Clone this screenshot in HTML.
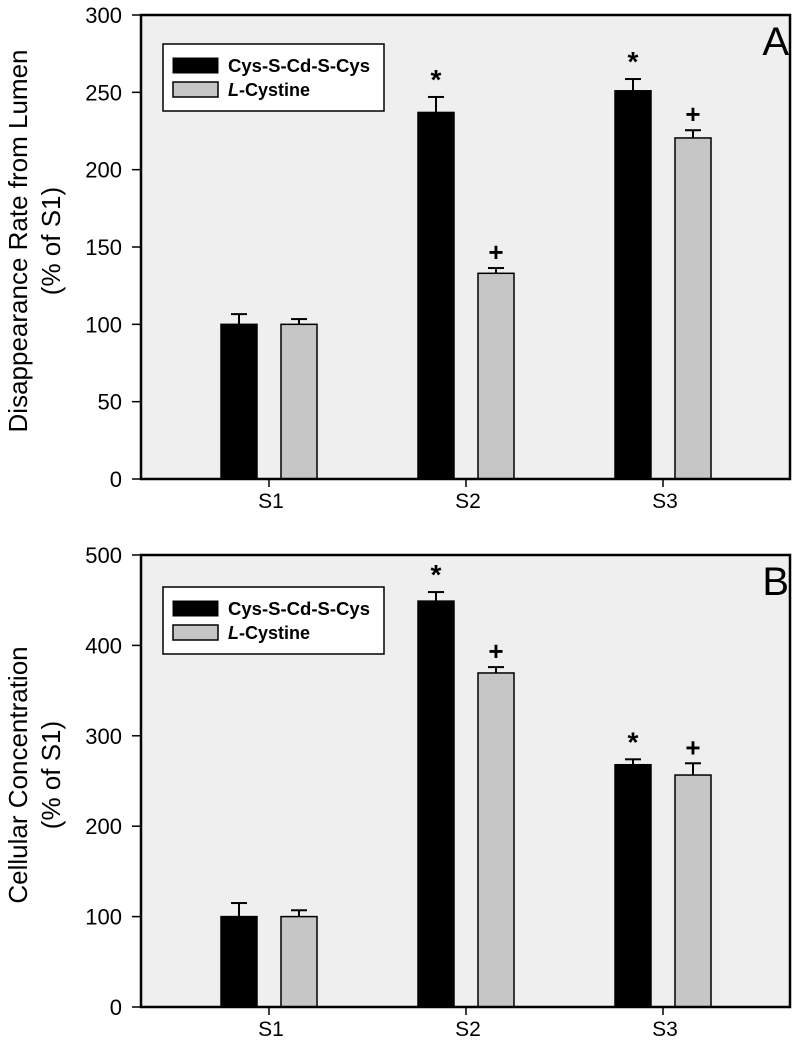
<!DOCTYPE html>
<html><head><meta charset="utf-8"><style>
html,body{margin:0;padding:0;background:#fff;}
svg{display:block;font-family:"Liberation Sans",Arial,sans-serif;}
</style></head><body>
<svg id="chart" width="800" height="1044" viewBox="0 0 800 1044" xmlns="http://www.w3.org/2000/svg"></svg>
<script>
const categories = ["S1", "S2", "S3"];
const seriesNames = ["Cys-S-Cd-S-Cys", "L-Cystine"];
const aCys = [100, 237, 251];
const aCysErr = [6.6, 10, 7.6];
const aLcy = [100, 133, 220.5];
const aLcyErr = [3.4, 3.4, 5];
const aMarksCys = ["", "*", "*"];
const aMarksLcy = ["", "+", "+"];
const aTicks = [0, 50, 100, 150, 200, 250, 300];
const bCys = [100, 449, 268];
const bCysErr = [15, 10, 6];
const bLcy = [100, 369.5, 256.6];
const bLcyErr = [7, 6.5, 13];
const bMarksCys = ["", "*", "*"];
const bMarksLcy = ["", "+", "+"];
const bTicks = [0, 100, 200, 300, 400, 500];

const NS = "http://www.w3.org/2000/svg";
const svg = document.getElementById("chart");
function mk(tag, attrs, parent, text) {
  const e = document.createElementNS(NS, tag);
  for (const k in attrs) e.setAttribute(k, attrs[k]);
  if (text !== undefined) e.textContent = text;
  (parent || svg).appendChild(e);
  return e;
}

function panel(opt) {
  const g = mk("g", {});
  
  
  const L = 141, R = 790, T = opt.top, B = opt.bottom;
  const ymax = opt.ticks[opt.ticks.length - 1];
  const y = v => B - (v / ymax) * (B - T);
  const xc = i => L + 128 + i * 197;
  const bg = mk("rect", {x: L, y: T, width: R - L, height: B - T, fill: "#efefef"}, g);
  
  
  opt.ticks.forEach(t => {
    const ln = mk("line", {x1: L - 9, x2: L, y1: y(t), y2: y(t), stroke: "#000", "stroke-width": 1.5}, g);
    
    
    const tx = mk("text", {x: L - 19, y: y(t) + 8, "text-anchor": "end", "font-size": 22}, g, String(t));
    
    
  });
  categories.forEach((c, i) => {
    const ln = mk("line", {x1: xc(i), x2: xc(i), y1: B, y2: B + 8, stroke: "#000", "stroke-width": 1.5}, g);
    
    
    const tx = mk("text", {x: xc(i) + 2, y: B + 29, "text-anchor": "middle", "font-size": 21}, g, c);
    
    
  });
  const drawSeries = (vals, errs, marks, x0, fill, sname, markDy) => {
    vals.forEach((v, i) => {
      const bx = xc(i) + x0, w = 36;
      const r = mk("rect", {x: bx, y: y(v), width: w, height: B - y(v), fill: fill, stroke: "#000", "stroke-width": 1.5}, g);
      
      
      const cx = bx + w / 2, et = y(v + errs[i]);
      const e1 = mk("line", {x1: cx, x2: cx, y1: y(v), y2: et, stroke: "#000", "stroke-width": 2}, g);
      
      
      const e2 = mk("line", {x1: cx - 8, x2: cx + 8, y1: et, y2: et, stroke: "#000", "stroke-width": 2}, g);
      
      
      if (marks[i]) {
        const m = mk("text", {x: cx, y: et + markDy, "text-anchor": "middle", "font-size": marks[i] === "*" ? 28 : 26, "font-weight": "bold"}, g, marks[i]);
        
        
      }
    });
  };
  drawSeries(opt.cys, opt.cysErr, opt.mCys, -48, "#000", "cys-s-cd-s-cys", -8);
  drawSeries(opt.lcy, opt.lcyErr, opt.mLcy, 12, "#c6c6c6", "l-cystine", -7);
  const fr = mk("rect", {x: L, y: T, width: R - L, height: B - T, fill: "none", stroke: "#000", "stroke-width": 2.5}, g);
  
  
  const lg = mk("g", {}, g);
  
  
  const ly = opt.legendTop;
  mk("rect", {x: 163, y: ly, width: 221, height: 67, fill: "#fff", stroke: "#000", "stroke-width": 1.5}, lg);
  const s1 = mk("rect", {x: 173, y: ly + 14, width: 45, height: 15, fill: "#000", stroke: "#000", "stroke-width": 1}, lg);
  
  
  const t1 = mk("text", {x: 228, y: ly + 28, "font-size": 18, "font-weight": "bold", textLength: 142, lengthAdjust: "spacingAndGlyphs"}, lg, seriesNames[0]);
  
  
  const s2 = mk("rect", {x: 173, y: ly + 38, width: 45, height: 15, fill: "#c6c6c6", stroke: "#000", "stroke-width": 1.5}, lg);
  
  
  const t2 = mk("text", {x: 228, y: ly + 52, "font-size": 18, "font-weight": "bold"}, lg);
  
  
  mk("tspan", {"font-style": "italic"}, t2, "L");
  mk("tspan", {}, t2, "-Cystine");
  const pl = mk("text", {x: 789, y: T + 40, "text-anchor": "end", "font-size": 40}, g, opt.letter);
  
  
  const cy = (T + B) / 2 - 6;
  const yt = mk("text", {transform: "translate(0," + cy + ") rotate(-90)", "text-anchor": "middle", "font-size": 26}, g);
  
  
  mk("tspan", {x: 0, y: 27}, yt, opt.title1);
  mk("tspan", {x: 0, y: 60}, yt, opt.title2);
}

panel({name: "panel-a", top: 15, bottom: 479, ticks: aTicks, cys: aCys, cysErr: aCysErr, lcy: aLcy, lcyErr: aLcyErr,
  mCys: aMarksCys, mLcy: aMarksLcy, legendTop: 44, letter: "A",
  title1: "Disappearance Rate from Lumen", title2: "(% of S1)"});
panel({name: "panel-b", top: 555, bottom: 1007, ticks: bTicks, cys: bCys, cysErr: bCysErr, lcy: bLcy, lcyErr: bLcyErr,
  mCys: bMarksCys, mLcy: bMarksLcy, legendTop: 587, letter: "B",
  title1: "Cellular Concentration", title2: "(% of S1)"});
</script>
</body></html>
